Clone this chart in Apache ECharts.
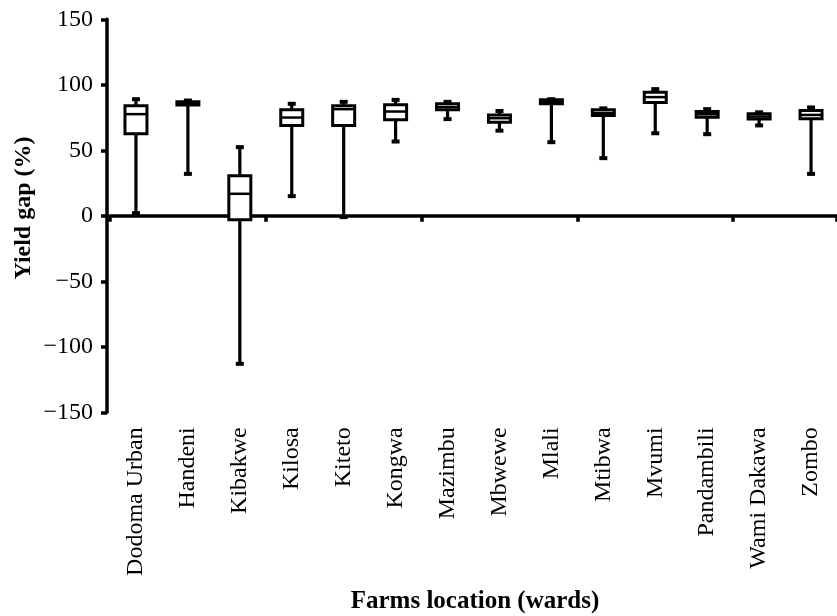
<!DOCTYPE html>
<html>
<head>
<meta charset="utf-8">
<script src="https://cdn.jsdelivr.net/npm/echarts@6/dist/echarts.min.js"></script>
<style>
  html, body { margin: 0; padding: 0; background: #fff; }
  #chart { width: 837px; height: 616px; }
</style>
</head>
<body>
<div id="chart"></div>
<script>
var categories = ['Dodoma Urban', 'Handeni', 'Kibakwe', 'Kilosa', 'Kiteto', 'Kongwa', 'Mazimbu',
                  'Mbwewe', 'Mlali', 'Mtibwa', 'Mvumi', 'Pandambili', 'Wami Dakawa', 'Zombo'];
var minVals    = [2,    32,  -113, 15,   -1,  56.7, 73.8, 65,   56.2, 44,   63,   62.3, 69,   32];
var q1Vals     = [62.6, 84.5, -3,  69,   69,  73.3, 81,   71.5, 85.5, 76.6, 86.5, 75.3, 73.8, 74];
var medianVals = [77.6, 86,  16.8, 75,   81.4, 79.6, 83,  74.5, 87,   78.5, 90.6, 77.5, 75.8, 77];
var q3Vals     = [84,   87,  30.5, 81,   84,  84.7, 85.5, 77,   88.5, 81,   94.4, 79.6, 77.9, 80.4];
var maxVals    = [89,   88,  52.4, 85.5, 87,  88.5, 87,   80,   89,   82,   96.7, 81.4, 79,   82.7];
var yTicks = [-150, -100, -50, 0, 50, 100, 150];

var data = categories.map(function (c, i) {
  return [i, minVals[i], q1Vals[i], medianVals[i], q3Vals[i], maxVals[i]];
});

var FONT = '"Liberation Serif", "Times New Roman", serif';
var chart = echarts.init(document.getElementById('chart'), null, { renderer: 'canvas' });

chart.setOption({
  animation: false,
  backgroundColor: '#fff',
  grid: { left: 110, top: 19.3, width: 735, height: 393 },
  xAxis: [
    {
      type: 'category',
      data: categories,
      boundaryGap: true,
      axisLine: { show: true, onZero: true, lineStyle: { color: '#000', width: 3.5 } },
      axisTick: { show: true, alignWithLabel: false, length: 6, lineStyle: { color: '#000', width: 3.5 } },
      axisLabel: { show: false },
      splitLine: { show: false }
    },
    {
      type: 'category',
      data: categories,
      position: 'bottom',
      boundaryGap: true,
      axisLine: { show: false, onZero: false },
      axisTick: { show: false },
      axisLabel: {
        show: true, rotate: 90, interval: 0, margin: 15,
        fontFamily: FONT, fontSize: 24, color: '#000'
      },
      splitLine: { show: false }
    }
  ],
  yAxis: {
    type: 'value',
    min: yTicks[0],
    max: yTicks[yTicks.length - 1],
    interval: 50,
    offset: 3,
    axisLine: { show: true, lineStyle: { color: '#000', width: 3.5 } },
    axisTick: { show: true, length: 6, lineStyle: { color: '#000', width: 3.5 } },
    axisLabel: {
      margin: 14, fontFamily: FONT, fontSize: 24, color: '#000',
      formatter: function (v) { return String(v).replace('-', '\u2212'); }
    },
    splitLine: { show: false }
  },
  graphic: [
    {
      type: 'text', x: 24, y: 208, rotation: Math.PI / 2,
      style: {
        text: 'Yield gap (%)', font: 'bold 24px ' + FONT, fill: '#000',
        align: 'center', verticalAlign: 'middle'
      }
    },
    {
      type: 'text', x: 475, y: 602,
      style: {
        text: 'Farms location (wards)', font: 'bold 25px ' + FONT, fill: '#000',
        align: 'center', verticalAlign: 'middle'
      }
    }
  ],
  series: [{
    type: 'custom',
    xAxisIndex: 0,
    yAxisIndex: 0,
    data: data,
    encode: { x: 0, y: [1, 2, 3, 4, 5] },
    renderItem: function (params, api) {
      var i = api.value(0);
      var x = api.coord([i, 0])[0];
      var pMin = api.coord([i, api.value(1)])[1];
      var pQ1 = api.coord([i, api.value(2)])[1];
      var pMed = api.coord([i, api.value(3)])[1];
      var pQ3 = api.coord([i, api.value(4)])[1];
      var pMax = api.coord([i, api.value(5)])[1];
      var bw = 22, cw = 8;
      var st = { stroke: '#000', lineWidth: 3.2 };
      var cap = { stroke: '#000', lineWidth: 4 };
      return {
        type: 'group',
        children: [
          { type: 'line', shape: { x1: x, y1: pMax, x2: x, y2: pMin }, style: st },
          { type: 'line', shape: { x1: x - cw / 2, y1: pMax, x2: x + cw / 2, y2: pMax }, style: cap },
          { type: 'line', shape: { x1: x - cw / 2, y1: pMin, x2: x + cw / 2, y2: pMin }, style: cap },
          { type: 'rect', shape: { x: x - bw / 2, y: pQ3, width: bw, height: pQ1 - pQ3 },
            style: { fill: '#fff', stroke: '#000', lineWidth: 3 } },
          { type: 'line', shape: { x1: x - bw / 2, y1: pMed, x2: x + bw / 2, y2: pMed },
            style: { stroke: '#000', lineWidth: 2.5 } }
        ]
      };
    }
  }]
});
</script>
</body>
</html>
